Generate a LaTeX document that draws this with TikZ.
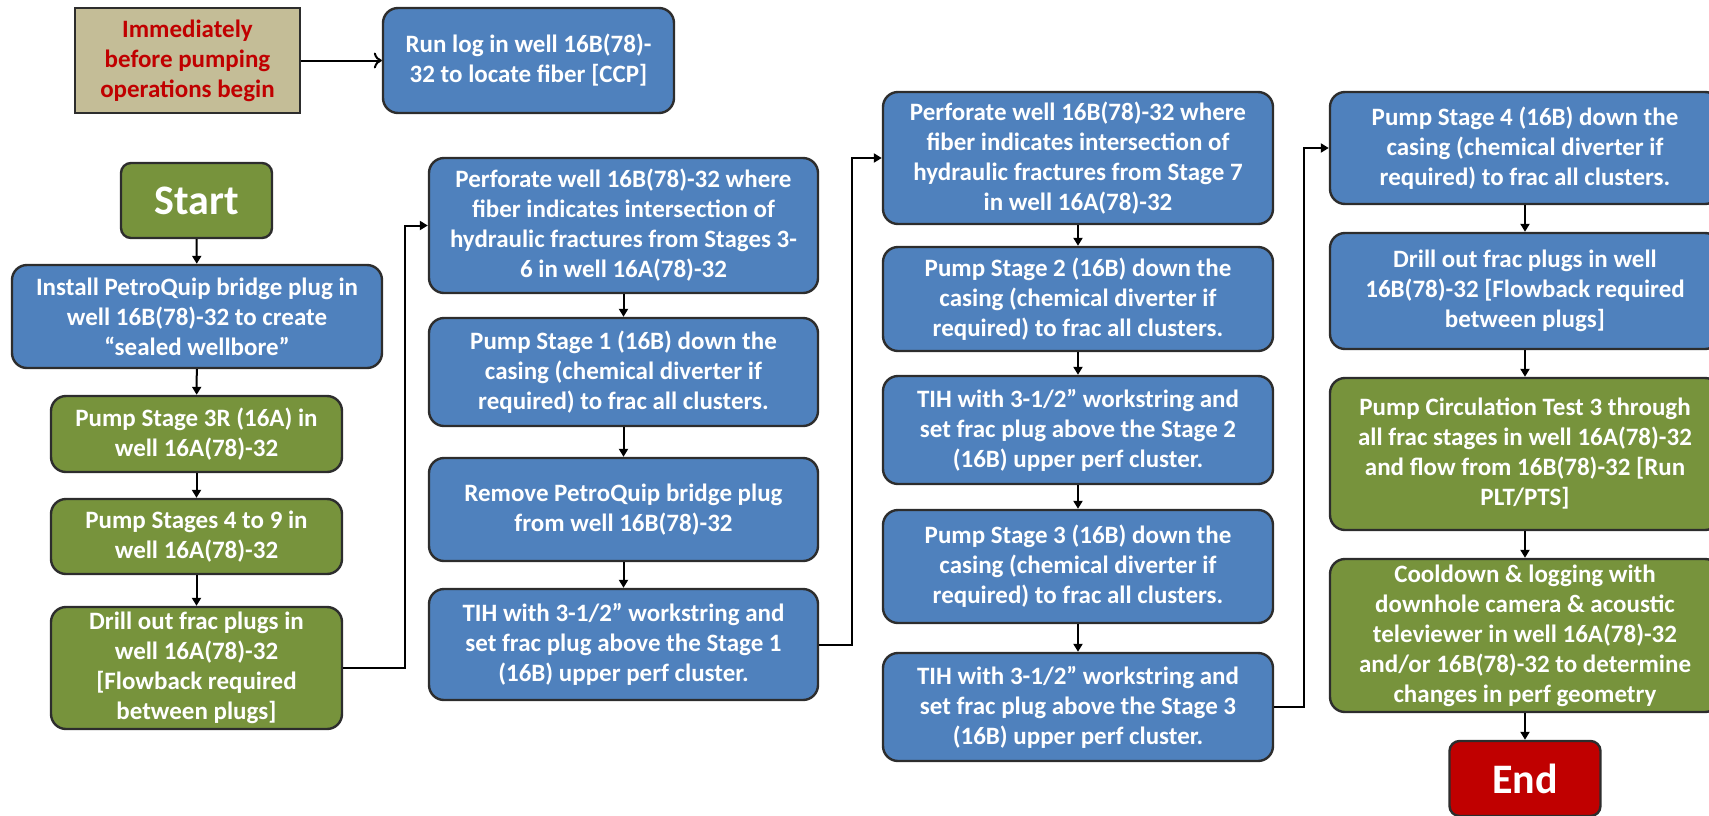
\documentclass[tikz,border=0pt]{standalone}
\usepackage{fontspec}
\setmainfont{Carlito}
\usepackage{tikz}
\usetikzlibrary{arrows.meta}

\definecolor{stepblue}{RGB}{79,129,189}
\definecolor{stepgreen}{RGB}{119,147,60}
\definecolor{stepred}{RGB}{192,0,0}
\definecolor{notetan}{RGB}{196,189,151}
\definecolor{edgegray}{RGB}{45,45,45}

\tikzset{
	stepbox/.style={draw=edgegray, line width=1.2pt, rounded corners=7.5pt, align=center,
		inner sep=0pt, text=white, font=\bfseries\fontsize{12.5}{15}\selectfont,
		minimum width=195pt},
	bluebox/.style={stepbox, fill=stepblue},
	greenbox/.style={stepbox, fill=stepgreen},
	termbox/.style={stepbox, rounded corners=5pt, font=\bfseries\fontsize{21}{24}\selectfont,
		minimum width=75.5pt, minimum height=37.5pt},
	link/.style={line width=1pt, -{Triangle[length=4pt,width=4.5pt]}},
}

\begin{document}
\begin{tikzpicture}[x=0.5pt, y=-0.5pt]
		%%%%% START %%%%%
		\useasboundingbox (0,0) rectangle (1709,815);
		\clip (0,0) rectangle (1709,815);
		
		\node[draw=edgegray, line width=1.2pt, fill=notetan, text=stepred, align=center,
			minimum width=112.5pt, minimum height=52.5pt, inner sep=0pt,
			font=\bfseries\fontsize{12.5}{15}\selectfont] (note) at (187.5,60.5)
			{Immediately\\before pumping\\operations begin};
		\node[bluebox, minimum width=145.5pt, minimum height=52.5pt] (runlog) at (528.5,60.5)
			{Run log in well 16B(78)-\\32 to locate fiber [CCP]};
		\draw[line width=1pt, -{To[length=4pt,width=8pt]}] (note) -- (runlog);
		
		% first column
		\node[termbox, fill=stepgreen] (start) at (196.5,200.5) {Start};
		\node[bluebox, minimum width=185pt, minimum height=51.5pt] (install) at (197,316.5)
			{Install PetroQuip bridge plug in\\well 16B(78)-32 to create\\“sealed wellbore”};
		\node[greenbox, minimum width=145.5pt, minimum height=38pt] (pumpR) at (196.5,434)
			{Pump Stage 3R (16A) in\\well 16A(78)-32};
		\node[greenbox, minimum width=145.5pt, minimum height=37.5pt] (pumpNine) at (196.5,536.5)
			{Pump Stages 4 to 9 in\\well 16A(78)-32};
		\node[greenbox, minimum width=145.5pt, minimum height=61pt] (drillA) at (196.5,668)
			{Drill out frac plugs in\\well 16A(78)-32\\{[}Flowback required\\between plugs]};
		
		% second column
		\node[bluebox, minimum width=194.5pt, minimum height=67.5pt] (perfA) at (623.5,225.5)
			{Perforate well 16B(78)-32 where\\fiber indicates intersection of\\hydraulic fractures from Stages 3-\\6 in well 16A(78)-32};
		\node[bluebox, minimum width=194.5pt, minimum height=54pt] (stageA) at (623.5,372)
			{Pump Stage 1 (16B) down the\\casing (chemical diverter if\\required) to frac all clusters.};
		\node[bluebox, minimum width=194.5pt, minimum height=51.5pt] (remove) at (623.5,509.5)
			{Remove PetroQuip bridge plug\\from well 16B(78)-32};
		\node[bluebox, minimum width=194.5pt, minimum height=55.5pt] (tihA) at (623.5,644.5)
			{TIH with 3-1/2” workstring and\\set frac plug above the Stage 1\\(16B) upper perf cluster.};
		
		% third column
		\node[bluebox, minimum height=66pt] (perfB) at (1078,158)
			{Perforate well 16B(78)-32 where\\fiber indicates intersection of\\hydraulic fractures from Stage 7\\in well 16A(78)-32};
		\node[bluebox, minimum height=52pt] (stageB) at (1078,299)
			{Pump Stage 2 (16B) down the\\casing (chemical diverter if\\required) to frac all clusters.};
		\node[bluebox, minimum height=54pt] (tihB) at (1078,430)
			{TIH with 3-1/2” workstring and\\set frac plug above the Stage 2\\(16B) upper perf cluster.};
		\node[bluebox, minimum height=56.5pt] (stageC) at (1078,566.5)
			{Pump Stage 3 (16B) down the\\casing (chemical diverter if\\required) to frac all clusters.};
		\node[bluebox, minimum height=54pt] (tihC) at (1078,707)
			{TIH with 3-1/2” workstring and\\set frac plug above the Stage 3\\(16B) upper perf cluster.};
		
		% fourth column
		\node[bluebox, minimum height=56pt] (stageD) at (1525,148)
			{Pump Stage 4 (16B) down the\\casing (chemical diverter if\\required) to frac all clusters.};
		\node[bluebox, minimum height=58pt] (drillB) at (1525,291)
			{Drill out frac plugs in well\\16B(78)-32 [Flowback required\\between plugs]};
		\node[greenbox, minimum height=76pt] (circ) at (1525,454)
			{Pump Circulation Test 3 through\\all frac stages in well 16A(78)-32\\and flow from 16B(78)-32 [Run\\PLT/PTS]};
		\node[greenbox, minimum height=76.5pt] (cool) at (1525,635.5)
			{Cooldown \& logging with\\downhole camera \& acoustic\\televiewer in well 16A(78)-32\\and/or 16B(78)-32 to determine\\changes in perf geometry};
		\node[termbox, fill=stepred] (end) at (1525,778.5) {End};
		
		\draw[link] (start) -- (install);
		\draw[link] (install) -- (pumpR);
		\draw[link] (pumpR) -- (pumpNine);
		\draw[link] (pumpNine) -- (drillA);
		\draw[link] (drillA.east) -- ++(62,0) |- (perfA.west);
		
		\draw[link] (perfA) -- (stageA);
		\draw[link] (stageA) -- (remove);
		\draw[link] (remove) -- (tihA);
		\draw[link] (tihA.east) -- ++(33,0) |- (perfB.west);
		
		\draw[link] (perfB) -- (stageB);
		\draw[link] (stageB) -- (tihB);
		\draw[link] (tihB) -- (stageC);
		\draw[link] (stageC) -- (tihC);
		\draw[link] (tihC.east) -- ++(30,0) |- (stageD.west);
		
		\draw[link] (stageD) -- (drillB);
		\draw[link] (drillB) -- (circ);
		\draw[link] (circ) -- (cool);
		\draw[link] (cool) -- (end);
		%%%%% END %%%%%
	\end{tikzpicture}
\end{document}
